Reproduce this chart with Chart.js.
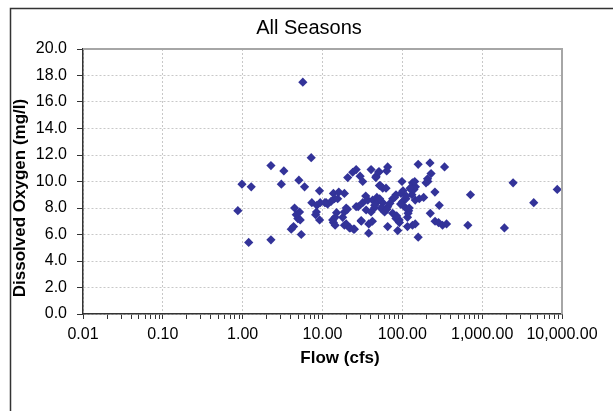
<!DOCTYPE html>
<html>
<head>
<meta charset="utf-8">
<script src="https://cdn.jsdelivr.net/npm/chart.js@4"></script>
<style>
  html, body { margin: 0; padding: 0; background: #ffffff; }
  #wrap { width: 613px; height: 411px; position: relative; }
</style>
</head>
<body>
<div id="wrap"><canvas id="c" width="613" height="411"></canvas></div>
<script>
const chartTitle = 'All Seasons';
const xAxisTitle = 'Flow (cfs)';
const yAxisTitle = 'Dissolved Oxygen (mg/l)';

const flow = [
  0.87, 0.98, 1.19, 1.28, 2.26, 2.26, 3.05, 3.28, 4.06, 4.34,
  4.47, 4.69, 4.91, 5.26, 5.16, 5.06, 5.42, 5.67, 5.96, 7.22,
  7.35, 8.2, 8.4, 8.5, 9.2, 9.17, 9.35, 11.1, 11.6, 13.4,
  14.4, 15, 14.1, 13.7, 12.8, 15.5, 18.8, 13.7, 14.4, 17.9,
  18.8, 19.8, 18.8, 19.8, 21.8, 22.2, 25.1, 20.7, 23.9, 26.4,
  29.6, 31.9, 26.4, 31.9, 36.9, 30.5, 35.2, 40.6, 44.7, 38,
  42.2, 37.9, 40.6, 46.9, 50.6, 51.6, 56.8, 62.5, 63.7, 65.5,
  42.5, 49.1, 56.8, 56.8, 65.5, 65.5, 75.7, 83.3, 96.3, 75.7,
  83.3, 91.2, 87.6, 99, 101, 106, 111, 116, 122, 128,
  132, 134, 140, 146, 134, 145, 116, 145, 163, 185,
  158, 158, 198, 207, 229, 222, 224, 256, 290, 257,
  284, 319, 358, 338, 662, 714, 1900, 2441, 4426, 8720,
  34.8, 48, 52, 54, 60, 64, 70, 80, 85, 95,
  102, 112, 118, 120, 125, 143, 209, 24.5, 20.5, 45,
  53, 30.6, 28, 16, 10.7, 46.6, 51, 92
];
const dissolvedOxygen = [
  7.8, 9.8, 5.4, 9.6, 11.2, 5.6, 9.8, 10.8, 6.4, 6.6,
  8.0, 7.5, 7.2, 7.1, 7.7, 10.1, 6.0, 17.5, 9.6, 11.8,
  8.4, 7.5, 7.7, 8.2, 7.1, 9.3, 8.4, 8.4, 8.3, 7.1,
  7.3, 7.65, 8.7, 9.1, 8.5, 8.7, 9.1, 6.9, 6.7, 7.3,
  7.7, 8.0, 6.7, 6.8, 6.5, 6.5, 6.4, 10.3, 10.7, 10.9,
  10.4, 10.0, 8.1, 8.4, 8.6, 7.05, 7.85, 7.7, 8.0, 6.8,
  7.0, 6.1, 10.9, 10.4, 10.7, 9.7, 9.5, 9.5, 10.8, 11.1,
  8.6, 8.5, 8.4, 7.85, 8.1, 6.6, 8.7, 9.0, 9.1, 7.6,
  7.2, 7.1, 6.3, 10.0, 8.5, 8.1, 8.7, 7.3, 8.0, 9.4,
  9.0, 9.9, 9.4, 9.6, 6.7, 6.8, 6.6, 8.6, 8.7, 8.8,
  11.3, 5.8, 9.9, 10.2, 10.6, 11.4, 7.6, 9.2, 8.2, 7.0,
  6.9, 6.7, 6.8, 11.1, 6.7, 9.0, 6.5, 9.9, 8.4, 9.4,
  8.9, 8.8, 8.7, 8.0, 7.7, 7.9, 8.35, 8.8, 7.4, 8.3,
  9.3, 8.9, 7.6, 7.8, 9.5, 10.0, 10.0, 6.4, 7.9, 8.2,
  9.7, 7.0, 8.1, 9.2, 8.4, 10.3, 10.75, 6.9
];
const yTickValues = [0, 2, 4, 6, 8, 10, 12, 14, 16, 18, 20];
const xTickValues = [0.01, 0.1, 1, 10, 100, 1000, 10000];
const xTickLabels = ['0.01', '0.10', '1.00', '10.00', '100.00', '1,000.00', '10,000.00'];

const points = flow.map((f, i) => ({ x: f, y: dissolvedOxygen[i] }));

// all major + minor log positions for tick marks
const xAllTicks = [];
for (let k = 0; k < xTickValues.length - 1; k++) {
  for (let m = 1; m <= 9; m++) xAllTicks.push(+(xTickValues[k] * m).toPrecision(6));
}
xAllTicks.push(xTickValues[xTickValues.length - 1]);
const isMajor = v => xTickValues.some(t => Math.abs(t - v) / t < 1e-6);

const FONT = '"Liberation Sans", Arial, sans-serif';

const decorPlugin = {
  id: 'decor',
  beforeDraw(chart) {
    const ctx = chart.ctx;
    ctx.save();
    ctx.fillStyle = '#ffffff';
    ctx.fillRect(0, 0, chart.width, chart.height);
    ctx.restore();
  },
  afterDraw(chart) {
    const ctx = chart.ctx;
    const a = chart.chartArea;
    ctx.save();
    // plot area top/right border
    ctx.strokeStyle = '#a6a6a6';
    ctx.lineWidth = 2;
    ctx.beginPath();
    ctx.moveTo(a.left, a.top);
    ctx.lineTo(a.right, a.top);
    ctx.lineTo(a.right, a.bottom);
    ctx.stroke();
    // outer frame
    ctx.strokeStyle = '#333333';
    ctx.lineWidth = 1.5;
    ctx.beginPath();
    ctx.moveTo(10.5, 420);
    ctx.lineTo(10.5, 8.5);
    ctx.lineTo(620, 8.5);
    ctx.stroke();
    // titles
    ctx.fillStyle = '#000000';
    ctx.textAlign = 'center';
    ctx.textBaseline = 'alphabetic';
    ctx.font = '20px ' + FONT;
    ctx.fillText(chartTitle, 309, 34);
    ctx.font = 'bold 17px ' + FONT;
    ctx.fillText(xAxisTitle, 340, 363);
    ctx.translate(24.5, 198);
    ctx.rotate(-Math.PI / 2);
    ctx.fillText(yAxisTitle, 0, 0);
    ctx.restore();
  }
};

new Chart(document.getElementById('c'), {
  type: 'scatter',
  data: {
    datasets: [{
      data: points,
      pointStyle: 'rectRot',
      pointRadius: 4.6,
      pointHoverRadius: 4.6,
      backgroundColor: '#333399',
      borderColor: '#333399',
      borderWidth: 0
    }]
  },
  options: {
    responsive: false,
    animation: false,
    devicePixelRatio: 1,
    layout: { padding: { top: 49, right: 51, left: 0, bottom: 0 } },
    plugins: { legend: { display: false }, title: { display: false }, tooltip: { enabled: false } },
    scales: {
      x: {
        type: 'logarithmic',
        position: 'bottom',
        min: 0.01,
        max: 10000,
        afterFit: s => { s.height = 97; },
        afterBuildTicks: s => { s.ticks = xAllTicks.map(v => ({ value: v, major: isMajor(v) })); },
        ticks: {
          autoSkip: false,
          maxRotation: 0,
          minRotation: 0,
          padding: 6,
          color: '#000000',
          font: { family: FONT, size: 16 },
          callback: (v) => {
            const i = xTickValues.findIndex(t => Math.abs(t - v) / t < 1e-6);
            return i >= 0 ? xTickLabels[i] : '';
          }
        },
        grid: {
          color: c => (c.tick && isMajor(c.tick.value)) ? '#c8c8c8' : 'rgba(0,0,0,0)',
          lineWidth: 1,
          tickLength: 5,
          tickColor: '#333333',
          tickWidth: 1
        },
        border: { display: true, color: '#333333', width: 1.5, dash: [2, 2] }
      },
      y: {
        type: 'linear',
        min: 0,
        max: 20,
        afterFit: s => { s.width = 83; },
        afterBuildTicks: s => { s.ticks = yTickValues.map(v => ({ value: v })); },
        ticks: {
          padding: 10,
          color: '#000000',
          font: { family: FONT, size: 16 },
          callback: v => Number(v).toFixed(1)
        },
        grid: {
          color: '#c8c8c8',
          lineWidth: 1,
          tickLength: 6,
          tickColor: '#333333'
        },
        border: { display: true, color: '#333333', width: 1.5, dash: [2, 2] }
      }
    }
  },
  plugins: [decorPlugin]
});
</script>
</body>
</html>
